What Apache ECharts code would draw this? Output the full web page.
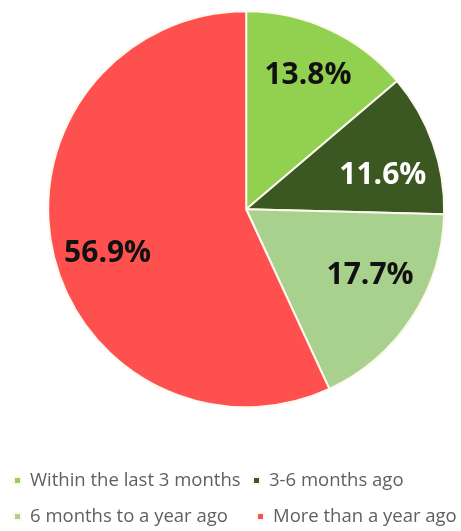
<!DOCTYPE html>
<html>
<head>
<meta charset="utf-8">
<script src="https://cdn.jsdelivr.net/npm/echarts@6/dist/echarts.min.js"></script>
<style>
  html, body { margin: 0; padding: 0; background: #ffffff; }
  #chart { width: 461px; height: 531px; }
</style>
</head>
<body>
<div id="chart"></div>
<script>
// Share of respondents by time since last visit (percent)
const categories = ['Within the last 3 months', '3-6 months ago', '6 months to a year ago', 'More than a year ago'];
const shares = [13.8, 11.6, 17.7, 56.9];
const sliceColors = ['#92D050', '#3B5722', '#A9D18E', '#FF5050'];
const labelColors = ['#111111', '#ffffff', '#111111', '#111111'];
// small nudges of each percentage label away from its default spot
const labelNudges = [[0, 0], [-2, 15], [1, -14], [5, 13]];

const center = ['53.4%', '39.4%'];
const outer = 198;

const pieData = categories.map((name, i) => ({
  name: name,
  value: shares[i],
  itemStyle: { color: sliceColors[i] }
}));

// Transparent ring on top that only carries the percentage labels,
// so they sit further out than the default mid-radius position.
const labelData = categories.map((name, i) => ({
  name: name,
  value: shares[i],
  label: { color: labelColors[i], offset: labelNudges[i] }
}));

const legendFont = { fontFamily: 'Open Sans', fontSize: 18.5, color: '#5f5f5f' };
const legendPos = [
  { left: 13, top: 471 },
  { left: 252, top: 471 },
  { left: 13, top: 507 },
  { left: 256, top: 507 }
];

const chart = echarts.init(document.getElementById('chart'), null, { renderer: 'canvas' });
chart.setOption({
  backgroundColor: '#ffffff',
  animation: false,
  legend: categories.map((name, i) => ({
    data: [name],
    left: legendPos[i].left,
    top: legendPos[i].top,
    orient: 'horizontal',
    icon: 'rect',
    itemWidth: 7,
    itemHeight: 7,
    itemGap: 0,
    padding: 0,
    textStyle: Object.assign({ padding: [0, 0, 0, 4] }, legendFont),
    selectedMode: false
  })),
  series: [
    {
      type: 'pie',
      center: center,
      radius: [0, outer],
      startAngle: 90,
      clockwise: true,
      silent: true,
      itemStyle: { borderColor: '#fdf8ee', borderWidth: 2 },
      label: { show: false },
      labelLine: { show: false },
      data: pieData
    },
    {
      type: 'pie',
      center: center,
      radius: [90, outer],
      startAngle: 90,
      clockwise: true,
      silent: true,
      legendHoverLink: false,
      itemStyle: { color: 'rgba(0,0,0,0)' },
      label: {
        show: true,
        position: 'inside',
        formatter: p => p.value.toFixed(1) + '%',
        fontFamily: 'Open Sans',
        fontWeight: 'bold',
        fontSize: 30
      },
      labelLine: { show: false },
      data: labelData
    }
  ]
});
</script>
</body>
</html>
